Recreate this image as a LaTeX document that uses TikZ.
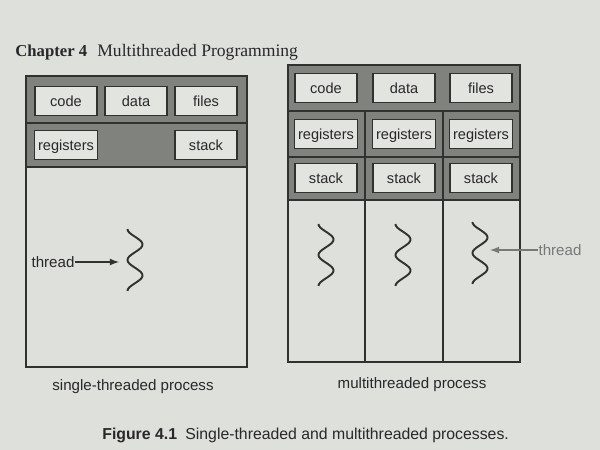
\documentclass[tikz,border=0pt]{standalone}
\usepackage{fontspec}
\setmainfont{Liberation Serif}
\setsansfont{Liberation Sans}
\usetikzlibrary{positioning,calc}
\usetikzlibrary{arrows.meta}
\definecolor{pagina}{RGB}{222,224,220}
\definecolor{banda}{RGB}{128,130,126}
\definecolor{chiaro}{RGB}{226,228,224}
\definecolor{linea}{RGB}{48,50,48}
\definecolor{testo}{RGB}{40,40,40}
\definecolor{grigio}{RGB}{118,122,118}
\tikzstyle{campo} = [rectangle, minimum width=1.24cm, minimum height=0.58cm, text height=1.7ex, text depth=0.45ex, inner xsep=2pt, text centered, draw=linea, fill=chiaro, line width=0.9pt, text=testo, font=\sffamily\fontsize{8.3}{10}\selectfont]
\tikzstyle{scritta} = [inner sep=0pt, text=testo, font=\sffamily\fontsize{8.6}{10}\selectfont]
\tikzstyle{filo} = [line width=1.1pt, draw=linea, smooth, samples=60]
\tikzstyle{arrow} = [thick,->,>=latex, draw=linea]

\begin{document}
\begin{tikzpicture}[x=0.2mm,y=-0.2mm]
\fill[pagina] (0,0) rectangle (600,450);
\useasboundingbox (0,0) rectangle (600,450);
% intestazione
\node (cap) at (15,52) [anchor=west, inner sep=0pt, text=testo, font=\bfseries\fontsize{9.5}{11}\selectfont] {Chapter 4};
\node (tit) at (97,52) [anchor=west, inner sep=0pt, text=testo, font=\fontsize{10}{12}\selectfont] {Multithreaded Programming};
% processo a thread singolo
\fill[banda] (26,76) rectangle (247,167);
\draw[linea, line width=0.9pt] (26,76) rectangle (247,367);
\draw[linea, line width=0.9pt] (26,123) -- (247,123);
\draw[linea, line width=0.9pt] (26,167) -- (247,167);
\node (c1) at (66,101) [campo] {code};
\node (d1) at (136,101) [campo] {data};
\node (f1) at (206,101) [campo] {files};
\node (r1) at (66,145) [campo] {registers};
\node (s1) at (206,145) [campo] {stack};
\draw[filo] plot[domain=-90:630, variable=\t] ({135+7.5*sin(\t)}, {229+0.0861*(\t+90)});
\coordinate (p1) at (119,262);
\node (t1) at (53,262) [scritta] {thread};
\draw[arrow] (t1) -- (p1);
\node (n1) at (133,387) [scritta] {single-threaded process};
% processo multithread
\fill[banda] (288,65) rectangle (520,200);
\draw[linea, line width=0.9pt] (288,65) rectangle (520,362);
\draw[linea, line width=0.9pt] (288,111) -- (520,111);
\draw[linea, line width=0.9pt] (288,157) -- (520,157);
\draw[linea, line width=0.9pt] (288,200) -- (520,200);
\draw[linea, line width=0.9pt] (365,111) -- (365,362);
\draw[linea, line width=0.9pt] (443,111) -- (443,362);
\node (c2) at (326,88) [campo] {code};
\node (d2) at (404,88) [campo] {data};
\node (f2) at (481,88) [campo] {files};
\node (r2) at (326,134) [campo] {registers};
\node (r3) at (404,134) [campo] {registers};
\node (r4) at (481,134) [campo] {registers};
\node (s2) at (326,178) [campo] {stack};
\node (s3) at (404,178) [campo] {stack};
\node (s4) at (481,178) [campo] {stack};
\draw[filo] plot[domain=-90:630, variable=\t] ({326+7.5*sin(\t)}, {224+0.0861*(\t+90)});
\draw[filo] plot[domain=-90:630, variable=\t] ({403+7.5*sin(\t)}, {224+0.0861*(\t+90)});
\draw[filo] plot[domain=-90:630, variable=\t] ({480+7.5*sin(\t)}, {222+0.0861*(\t+90)});
\coordinate (p2) at (490,250);
\node (t2) at (560,250) [scritta, text=grigio] {thread};
\draw[arrow, draw=grigio] (t2) -- (p2);
\node (n2) at (412,385) [scritta] {multithreaded process};
% didascalia
\node (fig) at (102,435) [anchor=west, inner sep=0pt, text=testo, font=\sffamily\bfseries\fontsize{9}{11}\selectfont] {Figure 4.1};
\node (dsc) at (185,435) [anchor=west, inner sep=0pt, text=testo, font=\sffamily\fontsize{9}{11}\selectfont] {Single-threaded and multithreaded processes.};
\end{tikzpicture}
\end{document}
